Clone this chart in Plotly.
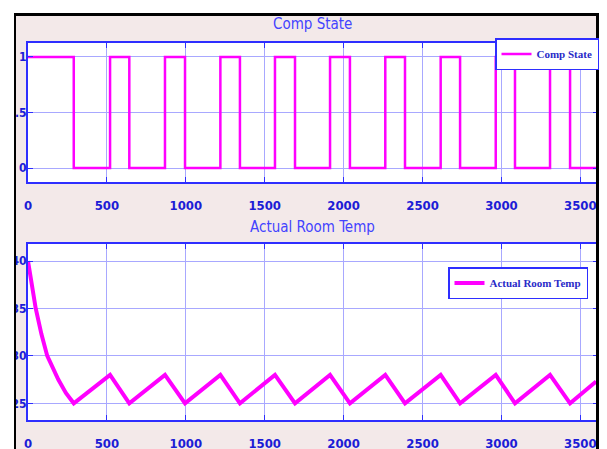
import plotly.graph_objects as go

W, H = 607, 449

# Compressor switching instants (s) and the state held from each instant
comp_t = [0, 290, 520, 642, 868, 995, 1219, 1343, 1565, 1692, 1914, 2040,
          2264, 2389, 2615, 2738, 2964, 3086, 3308, 3435, 3600]
comp_state = [1, 0, 1, 0, 1, 0, 1, 0, 1, 0, 1, 0, 1, 0, 1, 0, 1, 0, 1, 0, 0]

# Room temperature samples (s, deg C): initial pull-down then on/off cycling
temp_t = [0, 25, 49, 85, 122, 192, 240, 290, 520, 642, 868, 995, 1219, 1343,
          1565, 1692, 1914, 2040, 2264, 2389, 2615, 2738, 2964, 3086, 3308,
          3435, 3600]
temp_val = [40, 37.6, 35, 32.3, 30, 27.5, 26.1, 25, 28, 25, 28, 25, 28, 25,
            28, 25, 28, 25, 28, 25, 28, 25, 28, 25, 28, 25, 27.3]

x_ticks = [0, 500, 1000, 1500, 2000, 2500, 3000, 3500]
comp_ticks = [0, 0.5, 1]
comp_ticktext = ["0", "0.5", "1"]
temp_ticks = [25, 30, 35, 40]

MAGENTA = "#ff00ff"
AXIS_BLUE = "#2e2eff"
GRID_BLUE = "#a8a8ff"
TICK_BLUE = "#1c1cd6"
TITLE_BLUE = "#4343ff"
PINK = "#f3e9e9"
NARROW = "Liberation Sans Narrow, DejaVu Sans Condensed, Arial, sans-serif"
SERIF = "Liberation Serif, DejaVu Serif Condensed, serif"


def px_x(p):
    return p / W


def px_y(p):
    return 1 - p / H


fig = go.Figure()
fig.add_trace(go.Scatter(x=comp_t, y=comp_state, mode="lines", name="Comp State",
                         line=dict(color=MAGENTA, width=2.5, shape="hv"),
                         xaxis="x", yaxis="y", legend="legend"))
fig.add_trace(go.Scatter(x=temp_t, y=temp_val, mode="lines", name="Actual Room Temp",
                         line=dict(color=MAGENTA, width=4),
                         xaxis="x2", yaxis="y2", legend="legend2"))

common_x = dict(range=[0, 3612], tickvals=x_ticks, showgrid=True, gridcolor=GRID_BLUE,
                gridwidth=1, showline=True, linecolor=AXIS_BLUE, linewidth=2,
                mirror="ticks", ticks="inside", ticklen=5, tickcolor=AXIS_BLUE,
                zeroline=False, automargin=False, ticklabelstandoff=10,
                tickfont=dict(family=NARROW, size=13, color=TICK_BLUE, weight="bold"))
common_y = dict(showgrid=True, gridcolor=GRID_BLUE, gridwidth=1, showline=True,
                linecolor=AXIS_BLUE, linewidth=2, mirror="ticks", ticks="inside",
                ticklen=5, tickcolor=AXIS_BLUE, zeroline=False, automargin=False,
                ticklabelstandoff=-3,
                tickfont=dict(family=NARROW, size=12, color=TICK_BLUE, weight="bold"))

legend_common = dict(xanchor="right", yanchor="top", bgcolor="white",
                     bordercolor=AXIS_BLUE, borderwidth=1.5,
                     font=dict(family=SERIF, size=11, color="#2a2ac8", weight="bold"))

fig.update_layout(
    width=W, height=H,
    margin=dict(l=0, r=0, t=0, b=0, autoexpand=False),
    paper_bgcolor=PINK, plot_bgcolor="white",
    xaxis=dict(domain=[px_x(28), px_x(598)], anchor="y", **common_x),
    yaxis=dict(domain=[px_y(182), px_y(43)], anchor="x", range=[-0.126, 1.126],
               tickvals=comp_ticks, ticktext=comp_ticktext, **common_y),
    xaxis2=dict(domain=[px_x(28), px_x(598)], anchor="y2", **common_x),
    yaxis2=dict(domain=[px_y(420), px_y(244)], anchor="x2", range=[23.24, 41.8],
                tickvals=temp_ticks, **common_y),
    legend=dict(x=px_x(599), y=px_y(38), **legend_common),
    legend2=dict(x=px_x(588), y=px_y(267), **legend_common),
    annotations=[
        dict(text="Comp State", x=px_x(312), y=px_y(24), xref="paper", yref="paper",
             showarrow=False, xanchor="center", yanchor="middle",
             font=dict(family=NARROW, size=15, color=TITLE_BLUE)),
        dict(text="Actual Room Temp", x=px_x(312), y=px_y(227), xref="paper", yref="paper",
             showarrow=False, xanchor="center", yanchor="middle",
             font=dict(family=NARROW, size=15, color=TITLE_BLUE)),
    ],
    showlegend=True,
)

# Page frame: white outer margin and a black border round the pink panel
frame = [
    (0, 0, 14, H, "white"),
    (0, 0, W, 13, "white"),
    (599, 0, W, H, "white"),
    (14, 13, 16, H, "black"),
    (14, 13, 599, 16, "black"),
    (596, 13, 599, H, "black"),
]
for x0, y0, x1, y1, c in frame:
    fig.add_shape(type="rect", xref="paper", yref="paper",
                  x0=px_x(x0), x1=px_x(x1), y0=px_y(y1), y1=px_y(y0),
                  fillcolor=c, line=dict(width=0), layer="above")

fig.write_html("out.html")
